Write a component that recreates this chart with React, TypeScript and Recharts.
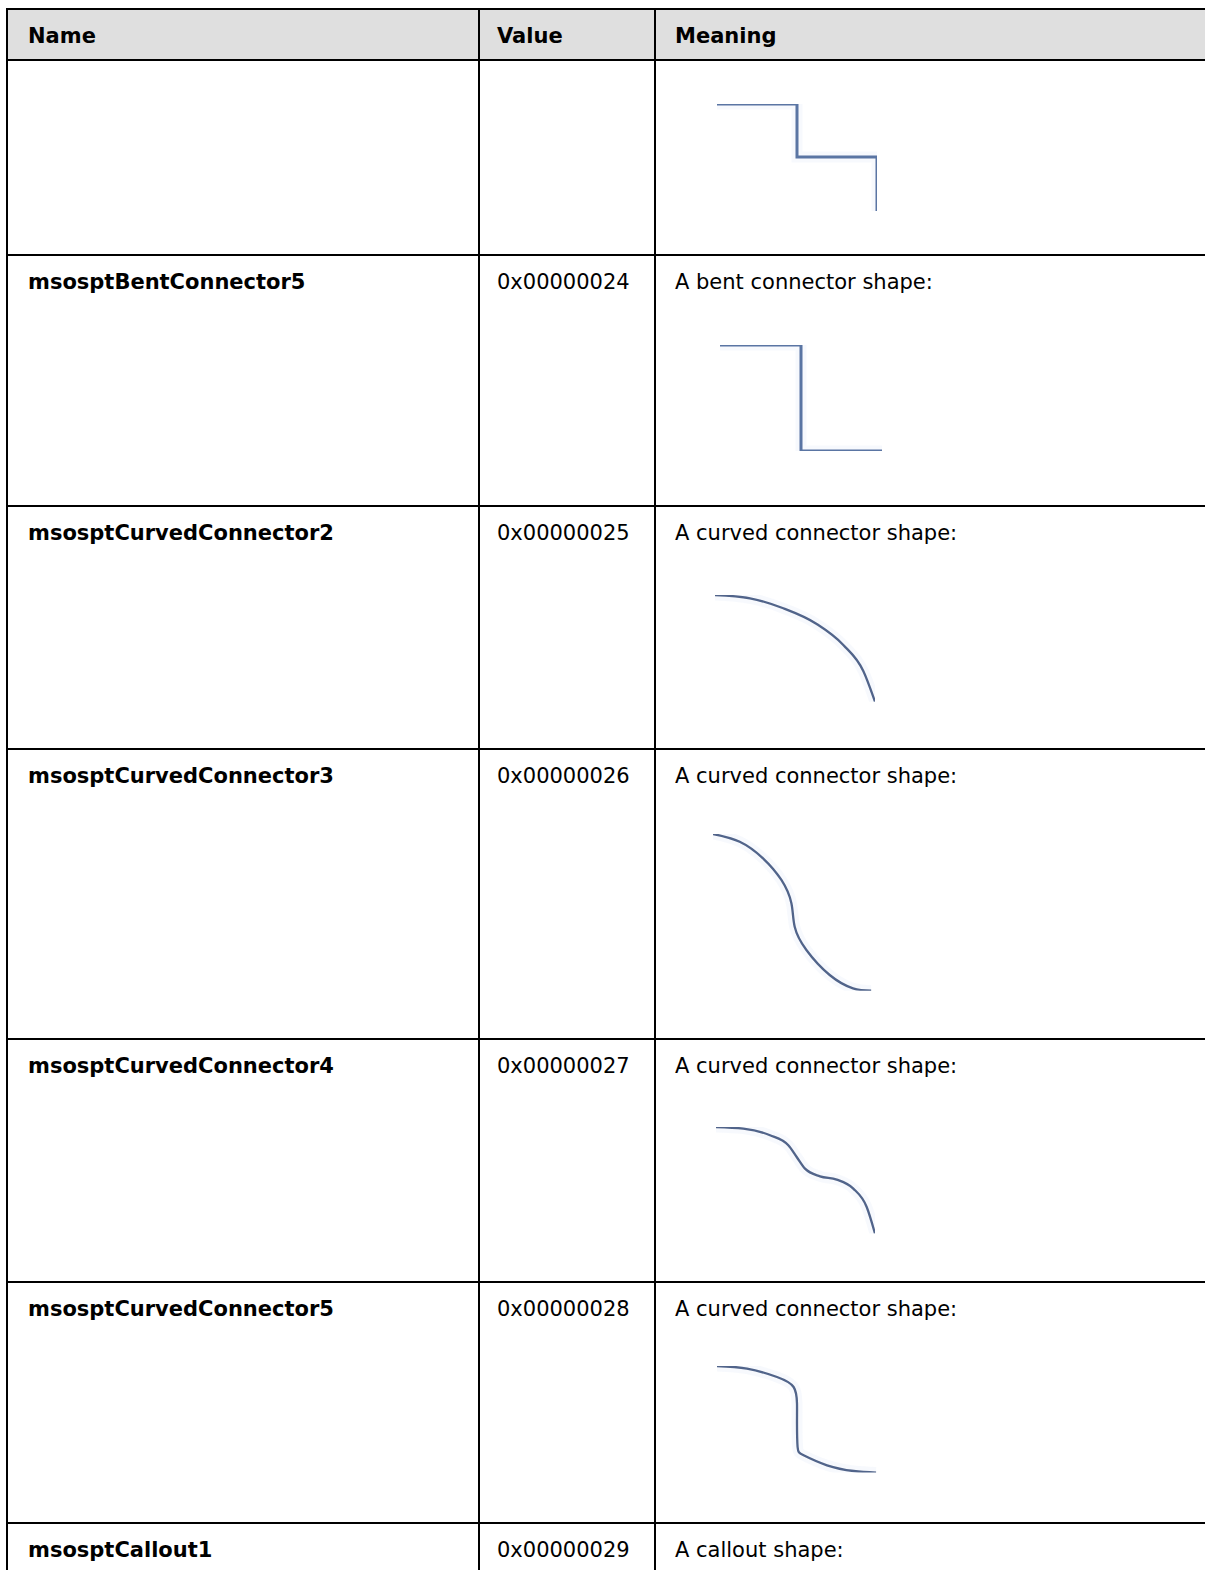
import React from "react";
import { LineChart, Line, XAxis, YAxis } from "recharts";

// table text
const headers = ["Name", "Value", "Meaning"];
const names = ["", "msosptBentConnector5", "msosptCurvedConnector2", "msosptCurvedConnector3", "msosptCurvedConnector4", "msosptCurvedConnector5", "msosptCallout1"];
const values = ["", "0x00000024", "0x00000025", "0x00000026", "0x00000027", "0x00000028", "0x00000029"];
const meanings = ["", "A bent connector shape:", "A curved connector shape:", "A curved connector shape:", "A curved connector shape:", "A curved connector shape:", "A callout shape:"];

// connector outlines (x right, y down)
const stairPts = [{ x: 0, y: 0 }, { x: 80, y: 53 }, { x: 160, y: 107 }];
const bent5Pts = [{ x: 0, y: 0 }, { x: 81, y: 106 }, { x: 162, y: 106 }];
const curved2Pts = [
  { x: 0, y: 0 }, { x: 35, y: 3.3 }, { x: 68.3, y: 13.3 }, { x: 101.7, y: 29 },
  { x: 128.3, y: 50 }, { x: 148.3, y: 76 }, { x: 160, y: 106.7 },
];
const curved3Pts = [
  { x: 0, y: 0 }, { x: 26.7, y: 7.7 }, { x: 50, y: 24.3 }, { x: 68.4, y: 46 }, { x: 78.4, y: 69.3 },
  { x: 81.7, y: 92.7 }, { x: 93.4, y: 116 }, { x: 116.7, y: 141 }, { x: 140, y: 154.3 }, { x: 158.4, y: 156.7 },
];
const curved4Pts = [
  { x: 0, y: 0 }, { x: 27.3, y: 1.6 }, { x: 54, y: 8.3 }, { x: 72.3, y: 18.3 }, { x: 80.7, y: 30 },
  { x: 89, y: 41.6 }, { x: 104, y: 49.3 }, { x: 120.7, y: 52.6 }, { x: 137.3, y: 61.6 },
  { x: 150.7, y: 80 }, { x: 159, y: 106.6 },
];
const curved5Pts = [
  { x: 0, y: 0 }, { x: 30, y: 2.6 }, { x: 60, y: 11 }, { x: 76.6, y: 21 }, { x: 80, y: 37.6 },
  { x: 80, y: 57.6 }, { x: 80.6, y: 81 }, { x: 86.6, y: 89.3 }, { x: 110, y: 99.3 },
  { x: 136.6, y: 105 }, { x: 159.3, y: 106.6 },
];

const FONT = '"DejaVu Sans", Verdana, sans-serif';
const rowTops = [8, 59, 254, 505, 748, 1038, 1281, 1522];
const colX = [6, 478, 654];
const textX = [28, 497, 675];
const PAD = 8;

type Pt = { x: number; y: number };

function Shape({ data, curve, left, top, w, h, bold }: { data: Pt[]; curve: any; left: number; top: number; w: number; h: number; bold?: boolean }) {
  const color = bold ? "#5a75a3" : "#51648a";
  return (
    <div style={{ position: "absolute", left: left - PAD, top: top - PAD }}>
      <LineChart width={w + PAD * 2} height={h + PAD * 2} data={data} margin={{ top: PAD, right: PAD, bottom: PAD, left: PAD }}>
        <XAxis type="number" dataKey="x" domain={[0, w]} hide allowDataOverflow />
        <YAxis type="number" domain={[0, h]} reversed hide allowDataOverflow />
        <Line dataKey="y" type={curve} stroke="#d3def2" strokeOpacity={0.18} strokeWidth={11} dot={false} isAnimationActive={false} />
        <Line dataKey="y" type={curve} stroke={color} strokeWidth={bold ? 3 : 2.3} dot={false} isAnimationActive={false} />
      </LineChart>
    </div>
  );
}

export default function App() {
  return (
    <div style={{ position: "absolute", left: 0, top: 0, width: 1205, height: 1570, overflow: "hidden", background: "#fff", fontFamily: FONT, fontSize: 21, color: "#000" }}>
      <div style={{ position: "absolute", left: 8, top: 10, width: 1197, height: 49, background: "#dfdfdf" }} />
      {rowTops.map((y, i) => (
        <div key={"h" + i} style={{ position: "absolute", left: 6, top: y, width: 1199, height: 2, background: "#000" }} />
      ))}
      {colX.map((x, i) => (
        <div key={"v" + i} style={{ position: "absolute", left: x, top: 8, width: 2, height: 1562, background: "#000" }} />
      ))}
      {headers.map((t, i) => (
        <div key={"t" + i} style={{ position: "absolute", left: textX[i], top: rowTops[0] + 16, lineHeight: "24px", fontWeight: "bold" }}>{t}</div>
      ))}
      {names.map((n, i) => i === 0 ? null : (
        <React.Fragment key={"r" + i}>
          <div style={{ position: "absolute", left: textX[0], top: rowTops[i + 1] + 16, lineHeight: "24px", fontWeight: "bold" }}>{n}</div>
          <div style={{ position: "absolute", left: textX[1], top: rowTops[i + 1] + 16, lineHeight: "24px" }}>{values[i]}</div>
          <div style={{ position: "absolute", left: textX[2], top: rowTops[i + 1] + 16, lineHeight: "24px" }}>{meanings[i]}</div>
        </React.Fragment>
      ))}
      <Shape data={stairPts} curve="stepAfter" left={716.5} top={103.5} w={160} h={107} bold />
      <Shape data={bent5Pts} curve="stepAfter" left={719.5} top={344.5} w={162} h={106} bold />
      <Shape data={curved2Pts} curve="monotone" left={715} top={595} w={160} h={106.7} />
      <Shape data={curved3Pts} curve="natural" left={713.3} top={834} w={158.4} h={156.7} />
      <Shape data={curved4Pts} curve="monotone" left={716} top={1126.7} w={159} h={106.6} />
      <Shape data={curved5Pts} curve="natural" left={716.7} top={1365.7} w={159.3} h={106.6} />
    </div>
  );
}
